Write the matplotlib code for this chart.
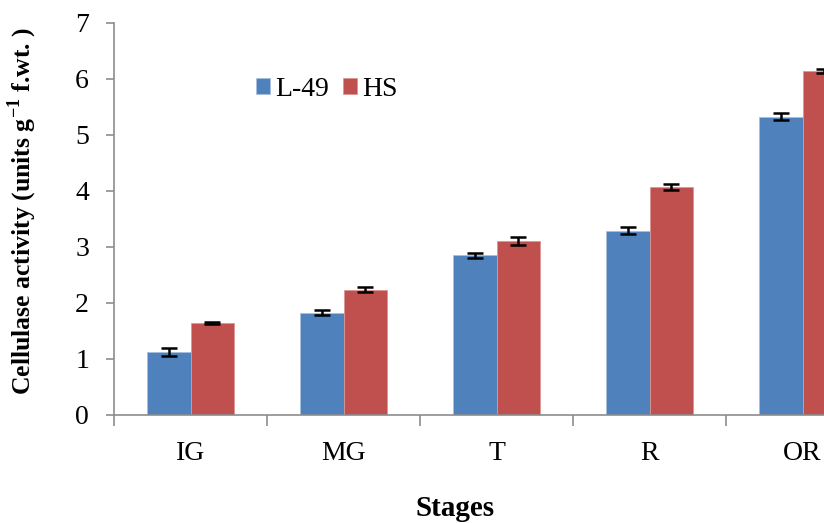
import numpy as np
import matplotlib
matplotlib.use("Agg")
import matplotlib.pyplot as plt
from matplotlib.ticker import FixedLocator

plt.rcParams["font.family"] = ["Liberation Serif", "DejaVu Serif"]
plt.rcParams["mathtext.fontset"] = "custom"
plt.rcParams["mathtext.rm"] = "Liberation Serif"
plt.rcParams["mathtext.bf"] = "Liberation Serif:bold"

# Cellulase activity by ripening stage
stages = ["IG", "MG", "T", "R", "OR"]
l49_mean = [1.13, 1.83, 2.85, 3.29, 5.33]
l49_err = [0.07, 0.05, 0.04, 0.06, 0.07]
hs_mean = [1.64, 2.24, 3.11, 4.07, 6.14]
hs_err = [0.02, 0.05, 0.07, 0.06, 0.03]

BLUE = "#4F81BD"
RED = "#C0504D"
AXIS = "#8C8C8C"

fig = plt.figure(figsize=(8.24, 5.23), dpi=100)
# axes run past the right edge, so the last group is clipped
ax = fig.add_axes([114 / 824, 108 / 523, 765 / 824, 392 / 523])

x = np.arange(len(stages))
w = 0.285
err_kw = dict(ecolor="black", elinewidth=1.8, capsize=5.5, capthick=1.8)
ax.bar(x - w / 2, l49_mean, w, yerr=l49_err, color=BLUE, edgecolor="#A7C0DE",
       linewidth=0.6, error_kw=err_kw, label="L-49")
ax.bar(x + w / 2, hs_mean, w, yerr=hs_err, color=RED, edgecolor="#DA9694",
       linewidth=0.6, error_kw=err_kw, label="HS")

ax.set_xlim(-0.5, len(stages) - 0.5)
ax.set_ylim(0, 7)
ax.set_yticks(range(0, 8))

ax.set_xticks(x)
ax.set_xticklabels(stages)
ax.xaxis.set_minor_locator(FixedLocator(np.arange(-0.5, len(stages), 1.0)))
ax.tick_params(axis="x", which="major", length=0, pad=19, labelsize=20)
ax.tick_params(axis="x", which="minor", length=8, width=1.2, color=AXIS, direction="out")
ax.tick_params(axis="y", length=6, width=1.2, color=AXIS, direction="out",
               labelsize=20, pad=12)

for side in ("top", "right"):
    ax.spines[side].set_visible(False)
for side in ("left", "bottom"):
    ax.spines[side].set_color(AXIS)
    ax.spines[side].set_linewidth(1.2)

ax.set_ylabel(r"Cellulase activity (units g$^{\mathbf{-1}}$ f.wt. )",
              fontsize=18.5, fontweight="bold")
ax.yaxis.set_label_coords(-0.098, 0.52)
fig.text(455 / 824, 1 - 508 / 523, "Stages", fontsize=21, fontweight="bold",
         ha="center", va="center")

ax.legend(loc="upper left", bbox_to_anchor=(0.171, 0.89), ncol=2, frameon=False,
          fontsize=20, handlelength=0.5, handleheight=0.5, handletextpad=0.2,
          columnspacing=0.5, borderaxespad=0)

fig.savefig("out.png", dpi=100)
